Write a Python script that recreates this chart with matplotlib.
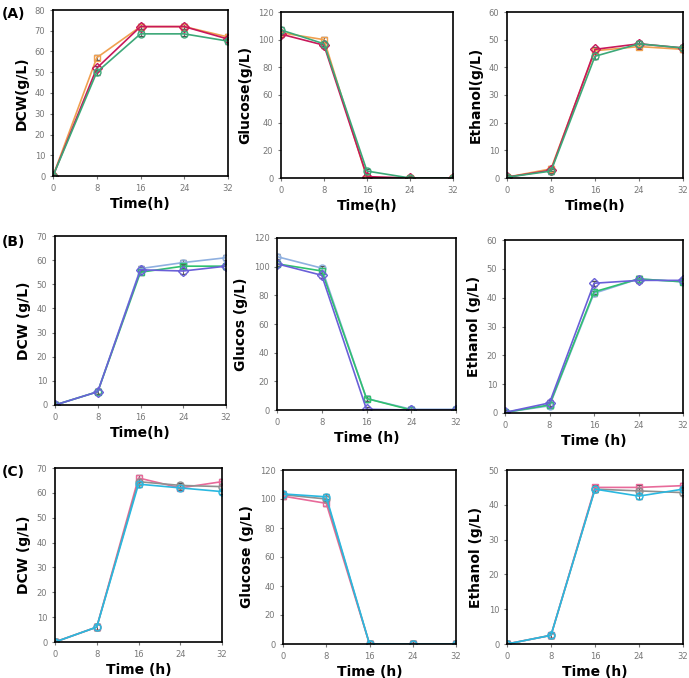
import matplotlib
matplotlib.use("Agg")
import matplotlib.pyplot as plt

time = [0, 8, 16, 24, 32]

# Row A
A_dcw = {"orange": [0, 57, 72, 72, 67], "magenta": [0, 52, 72, 72, 66], "green": [0, 50, 68.5, 68.5, 65]}
A_glu = {"orange": [105, 100, 0, 0, 0], "magenta": [104, 96, 1, 0, 0], "green": [107, 97, 5, 0, 0]}
A_eth = {"orange": [0.3, 3.3, 46, 47.5, 46.5], "magenta": [0.3, 2.8, 46.5, 48.5, 47], "green": [0.3, 2.5, 44, 48.5, 47]}
# Row B
B_dcw = {"lightblue": [0, 5.5, 56.5, 59, 61], "green": [0, 5.5, 55, 57.5, 57.5], "purple": [0, 5.5, 56, 55.5, 57.5]}
B_glu = {"lightblue": [107, 99, 8, 0.5, 0.5], "green": [102, 97, 8, 0, 0], "purple": [102, 94, 0.5, 0, 0]}
B_eth = {"lightblue": [0.2, 2.5, 41.5, 46.5, 45.5], "green": [0.2, 2.8, 42, 46.5, 45.5], "purple": [0.2, 3.5, 45, 46, 46]}
# Row C
C_dcw = {"pink": [0, 6, 66, 62, 64.5], "gray": [0, 6, 64.5, 63, 62.5], "cyan": [0, 6, 63.5, 62, 60.5]}
C_glu = {"pink": [102, 97, 0, 0, 0], "gray": [103, 100, 0, 0, 0], "cyan": [103.5, 101.5, 0, 0, 0]}
C_eth = {"pink": [0, 2.5, 45, 45, 45.5], "gray": [0, 2.5, 44.5, 44, 43.5], "cyan": [0, 2.5, 44.5, 42.5, 44.5]}

styles = {
    "orange": ("#F0A050", "s"), "magenta": ("#C8185A", "D"), "green": ("#3CA878", "o"),
    "lightblue": ("#8FB0E0", "o"), "purple": ("#6A60D8", "D"),
    "pink": ("#E86A9A", "s"), "gray": ("#909090", "o"), "cyan": ("#2AB8E0", "o"),
}
greenB = "#30C070"

W, H = 689, 678
fig = plt.figure(figsize=(W / 100, H / 100), dpi=100)

def add_ax(x0, y0, x1, y1):
    return fig.add_axes([x0 / W, 1 - y1 / H, (x1 - x0) / W, (y1 - y0) / H])

panels = [
    ((53, 10, 228, 176), A_dcw, "DCW(g/L)", "Time(h)", 80, 10),
    ((281, 12, 453, 178), A_glu, "Glucose(g/L)", "Time(h)", 120, 20),
    ((507, 12, 683, 178), A_eth, "Ethanol(g/L)", "Time(h)", 60, 10),
    ((55, 236, 226, 405), B_dcw, "DCW (g/L)", "Time(h)", 70, 10),
    ((277, 238, 456, 410), B_glu, "Glucos (g/L)", "Time (h)", 120, 20),
    ((505, 240, 683, 413), B_eth, "Ethanol (g/L)", "Time (h)", 60, 10),
    ((55, 468, 222, 642), C_dcw, "DCW (g/L)", "Time (h)", 70, 10),
    ((283, 470, 456, 644), C_glu, "Glucose (g/L)", "Time (h)", 120, 20),
    ((507, 470, 683, 644), C_eth, "Ethanol (g/L)", "Time (h)", 50, 10),
]

for i, (box, data, ylab, xlab, ymax, ystep) in enumerate(panels):
    ax = add_ax(*box)
    for name, vals in data.items():
        c, m = styles[name]
        if name == "green" and i in (3, 4, 5):
            c, m = greenB, "s"
        ax.errorbar(time, vals, yerr=[0.015 * ymax] * 5, color=c, marker=m, mfc="none",
                    mec=c, ms=5, lw=1.2, capsize=2, elinewidth=0.6, ecolor="#555555")
    ax.set_xlim(0, 32)
    ax.set_ylim(0, ymax)
    ax.set_xticks(time)
    ax.set_yticks(range(0, ymax + 1, ystep))
    ax.tick_params(labelsize=6, colors="#777777", length=2)
    for s in ax.spines.values():
        s.set_linewidth(1.2)
        s.set_color("black")
    ax.set_ylabel(ylab, fontsize=10, fontweight="bold")
    ax.set_xlabel(xlab, fontsize=10, fontweight="bold", labelpad=3)

fig.text(2 / W, 1 - 18 / H, "(A)", fontsize=10, fontweight="bold")
fig.text(2 / W, 1 - 246 / H, "(B)", fontsize=10, fontweight="bold")
fig.text(2 / W, 1 - 476 / H, "(C)", fontsize=10, fontweight="bold")

fig.savefig("out.png", dpi=100)
